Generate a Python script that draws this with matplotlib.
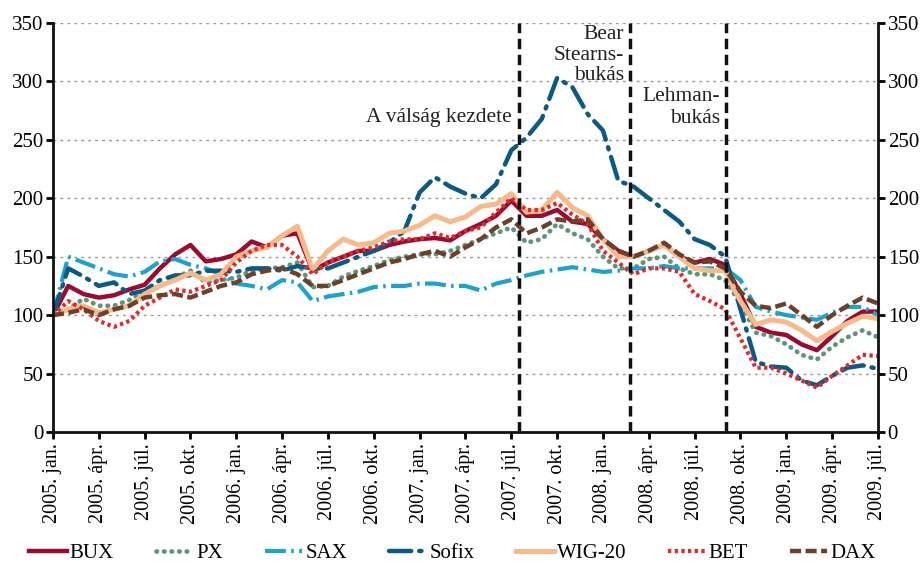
import numpy as np
import matplotlib
matplotlib.use("Agg")
import matplotlib.pyplot as plt

plt.rcParams['font.family'] = ['Liberation Serif', 'DejaVu Serif']

# monthly values, 2005 jan .. 2009 jul (index 100 = 2005 jan)
bux = [100, 125, 118, 115, 117, 122, 126, 140, 152, 160, 146, 148,
       152, 163, 158, 168, 170, 138, 145, 150, 155, 155, 160, 163,
       165, 166, 164, 172, 178, 185, 198, 185, 185, 190, 180, 178,
       165, 155, 150, 155, 160, 150, 145, 148, 143, 118, 90, 85,
       83, 75, 70, 82, 95, 103, 103]
px = [100, 105, 114, 108, 108, 113, 120, 125, 132, 138, 128, 130,
      132, 138, 140, 141, 145, 124, 125, 133, 138, 142, 147, 150,
      152, 152, 155, 160, 165, 170, 175, 162, 165, 178, 170, 165,
      150, 140, 140, 148, 150, 140, 135, 135, 130, 110, 85, 82,
      75, 66, 62, 73, 81, 87, 81]
sax = [100, 150, 145, 140, 135, 133, 137, 146, 148, 143, 140, 135,
       127, 125, 122, 130, 128, 112, 116, 118, 120, 124, 125, 125,
       127, 127, 125, 125, 121, 127, 130, 134, 137, 139, 141, 139,
       137, 138, 140, 140, 142, 140, 140, 140, 140, 130, 107, 103,
       100, 98, 96, 102, 107, 107, 100]
sofix = [100, 140, 133, 125, 128, 118, 121, 130, 134, 134, 138, 138,
         137, 140, 140, 138, 142, 140, 140, 145, 150, 155, 162, 172,
         205, 218, 210, 204, 200, 212, 241, 252, 268, 303, 295, 272,
         258, 215, 210, 200, 190, 180, 165, 160, 150, 105, 60, 56,
         55, 44, 40, 48, 55, 57, 54]
wig20 = [100, 105, 108, 102, 105, 108, 118, 125, 130, 136, 130, 135,
         150, 155, 158, 168, 176, 139, 155, 165, 160, 162, 170, 172,
         177, 185, 180, 184, 193, 195, 204, 188, 190, 205, 192, 185,
         165, 150, 150, 155, 160, 150, 140, 138, 138, 112, 92, 96,
         94, 87, 78, 86, 93, 99, 97]
bet = [100, 112, 105, 95, 90, 95, 108, 115, 122, 120, 125, 130,
       145, 155, 160, 160, 150, 135, 145, 150, 155, 158, 163, 165,
       165, 170, 166, 172, 175, 188, 200, 190, 190, 196, 186, 178,
       155, 145, 135, 140, 140, 137, 118, 112, 105, 80, 55, 55,
       50, 44, 38, 48, 57, 66, 65]
dax = [100, 102, 105, 100, 105, 108, 115, 117, 118, 115, 120, 125,
       128, 135, 138, 140, 135, 125, 125, 130, 135, 140, 145, 148,
       152, 155, 150, 158, 165, 175, 182, 170, 175, 182, 180, 182,
       165, 155, 150, 155, 162, 152, 145, 146, 140, 120, 108, 106,
       110, 100, 90, 100, 108, 115, 110]

years = ['2005', '2006', '2007', '2008', '2009']
month_names = ['jan.', 'ápr.', 'júl.', 'okt.']
tick_labels = [f"{y}. {m}" for y in years for m in month_names][:19]

events = [30.5, 37.75, 44.05]  # month positions of the dashed lines

x = np.arange(len(bux))

fig = plt.figure(figsize=(9.23, 5.72), dpi=100)
ax = fig.add_axes([0.0574, 0.2448, 0.8938, 0.715])

ax.plot(x, bux, color='#9b0a2f', lw=3.2, label='BUX', solid_joinstyle='round')
ax.plot(x, px, color='#5b9679', lw=3.4, ls=(0, (0.1, 1.5)), dash_capstyle='round', label='PX')
ax.plot(x, sax, color='#1ba2d0', lw=3.0, ls=(0, (5, 1.3, 0.6, 1.3)), label='SAX')
ax.plot(x, sofix, color='#0b5a85', lw=3.2, ls=(0, (5, 1.8, 0.5, 1.8)), dash_capstyle='round', label='Sofix')
ax.plot(x, wig20, color='#f8b98b', lw=3.6, label='WIG-20', solid_joinstyle='round')
ax.plot(x, bet, color='#e5292b', lw=3.0, ls=(0, (0.8, 0.8)), label='BET')
ax.plot(x, dax, color='#6d4129', lw=3.2, ls=(0, (2.5, 1)), label='DAX')

for ev in events:
    ax.plot([ev, ev], [0, 350], color='#111111', lw=2.5, ls=(0, (3, 1.6)), zorder=5)

ax.text(30.0, 269, 'A válság kezdete', ha='right', va='center', fontsize=15.5, color='#222222')
ax.text(37.4, 348, 'Bear\nStearns-\nbukás', ha='right', va='top', fontsize=15.5,
        color='#222222', linespacing=1.1)
ax.text(43.65, 295, 'Lehman-\nbukás', ha='right', va='top', fontsize=15.5,
        color='#222222', linespacing=1.2)

ax.set_xlim(0, 54)
ax.set_ylim(0, 350)
ax.set_yticks(np.arange(0, 351, 50))
ax.set_xticks(np.arange(0, 55, 3))
ax.set_xticklabels(tick_labels, rotation=90, fontsize=14.5)
ax.tick_params(axis='y', labelsize=15, left=True, right=True, labelleft=True, labelright=True,
               direction='out', length=5, width=2, pad=2)
ax.tick_params(axis='x', direction='out', length=5, width=2, pad=3)

for y in range(50, 351, 50):
    ax.axhline(y, color='#9a9a9a', lw=1, ls=(0, (2, 3)), zorder=0)

for side in ['left', 'right', 'bottom']:
    ax.spines[side].set_linewidth(2)
    ax.spines[side].set_color('#111111')
ax.spines['top'].set_visible(False)

fig.legend(loc='center', bbox_to_anchor=(0.49, 0.033), ncol=7, frameon=False,
           fontsize=15, handlelength=1.8, handletextpad=0.15, columnspacing=2.0)

fig.savefig('out.png', dpi=100)
